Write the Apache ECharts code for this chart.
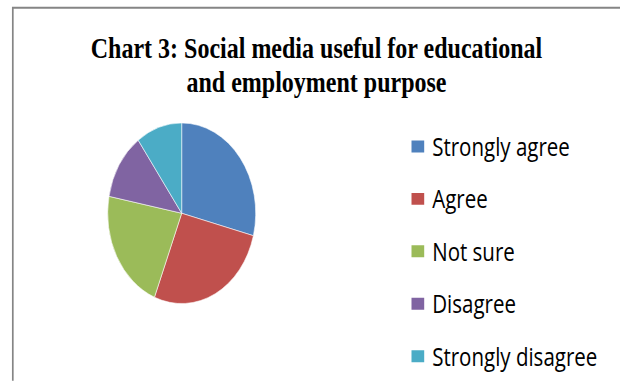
<!DOCTYPE html>
<html>
<head>
<meta charset="utf-8">
<title>Chart 3</title>
<script src="https://cdn.jsdelivr.net/npm/echarts@6/dist/echarts.min.js"></script>
<style>
  html, body { margin: 0; padding: 0; background: #fff; overflow: hidden; }
  #wrap { width: 620px; height: 381px; overflow: hidden; position: relative; }
  /* the chart is drawn in a shorter box and stretched vertically */
  #chart { width: 620px; height: 312.3px; transform: scaleY(1.22); transform-origin: 0 0; }
</style>
</head>
<body>
<div id="wrap"><div id="chart"></div></div>
<script>
// Survey answers
const categories = ['Strongly agree', 'Agree', 'Not sure', 'Disagree', 'Strongly disagree'];
const values = [29, 27, 22, 12, 10];
const palette = ['#4F81BD', '#C0504D', '#9BBB59', '#8064A2', '#4BACC6'];
const titleText = 'Chart 3: Social media useful for educational\nand employment purpose';

const chart = echarts.init(document.getElementById('chart'), null, { renderer: 'svg' });

chart.setOption({
  backgroundColor: '#ffffff',
  animation: false,
  color: palette,
  title: {
    text: titleText,
    left: 316.5,
    top: 26,
    padding: 0,
    textAlign: 'center',
    textStyle: {
      fontFamily: 'Liberation Serif',
      fontWeight: 'bold',
      fontSize: 24,
      lineHeight: 27.4,
      color: '#000000'
    }
  },
  legend: {
    orient: 'vertical',
    left: 409.5,
    top: 109,
    padding: 0,
    itemWidth: 14.7,
    itemHeight: 11.8,
    itemGap: 21,
    icon: 'rect',
    data: categories,
    textStyle: {
      fontFamily: 'Open Sans',
      fontSize: 20.5,
      lineHeight: 22,
      color: '#000000',
      padding: [0, 0, 0, 2]
    }
  },
  graphic: [{
    type: 'rect',
    shape: { x: 12.8, y: 6.3, width: 700, height: 400 },
    style: { fill: 'none', stroke: '#858585', lineWidth: 1.7 },
    silent: true
  }],
  series: [{
    type: 'pie',
    center: [181.7, 174.8],
    radius: 74,
    startAngle: 90,
    clockwise: true,
    label: { show: false },
    labelLine: { show: false },
    itemStyle: { borderColor: '#ffffff', borderWidth: 0.5 },
    emphasis: { disabled: true },
    data: categories.map((name, i) => ({ name, value: values[i] }))
  }]
});
</script>
</body>
</html>
